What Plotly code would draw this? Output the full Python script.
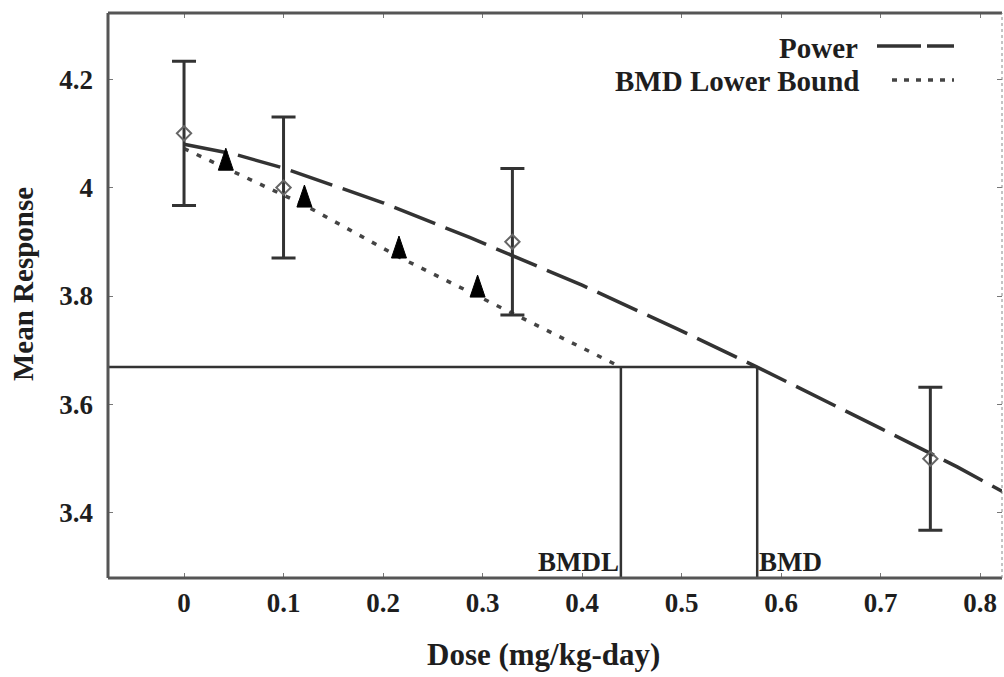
import plotly.graph_objects as go

# Observed group means with +/- error bar half-widths
dose = [0.0, 0.1, 0.33, 0.75]
mean_resp = [4.10, 4.00, 3.90, 3.50]
err_half = [0.133, 0.130, 0.135, 0.132]

# Fitted power model curve
power_dose = [0.0, 0.05, 0.1, 0.2, 0.287, 0.4, 0.495, 0.576, 0.7, 0.777, 0.83]
power_resp = [4.080, 4.062, 4.036, 3.972, 3.908, 3.820, 3.740, 3.669, 3.556, 3.485, 3.432]

# Lower-bound curve and its point markers
lb_dose = [0.0, 0.042, 0.121, 0.216, 0.295, 0.439]
lb_resp = [4.072, 4.036, 3.968, 3.872, 3.800, 3.669]
tri_dose = [0.042, 0.121, 0.216, 0.295]
tri_resp = [4.045, 3.977, 3.883, 3.811]

# Benchmark values
bmr_level = 3.669
bmd = 0.576
bmdl = 0.439

x_range = [-0.0764, 0.822]
y_range = [3.28, 4.322]
x_ticks = [0, 0.1, 0.2, 0.3, 0.4, 0.5, 0.6, 0.7, 0.8]
x_ticktext = ["0", "0.1", "0.2", "0.3", "0.4", "0.5", "0.6", "0.7", "0.8"]
y_ticks = [3.4, 3.6, 3.8, 4.0, 4.2]
y_ticktext = ["3.4", "3.6", "3.8", "4", "4.2"]

FONT = "Liberation Serif"
INK = "#1e1e1e"
LINE = "#333333"

W, H = 1004, 677
L, R, T, B = 108, 2, 13, 99
pw, ph = W - L - R, H - T - B


def px(xp):
    return (xp - L) / pw


def py(yp):
    return 1 - (yp - T) / ph


def bold(size):
    return dict(family=FONT, size=size, color=INK, weight="bold")


fig = go.Figure()

# BMD / BMDL reference lines
ref_line = dict(color=LINE, width=2.5)
fig.add_trace(go.Scatter(x=[x_range[0], bmd], y=[bmr_level, bmr_level], mode="lines",
                         line=ref_line, showlegend=False, hoverinfo="skip"))
fig.add_trace(go.Scatter(x=[bmdl, bmdl], y=[bmr_level, y_range[0]], mode="lines",
                         line=ref_line, showlegend=False, hoverinfo="skip"))
fig.add_trace(go.Scatter(x=[bmd, bmd], y=[bmr_level, y_range[0]], mode="lines",
                         line=ref_line, showlegend=False, hoverinfo="skip"))

# Power model
fig.add_trace(go.Scatter(x=power_dose, y=power_resp, mode="lines",
                         line=dict(color=LINE, width=3.5, dash="44px,11px"),
                         showlegend=False))

# Lower bound curve
fig.add_trace(go.Scatter(x=lb_dose, y=lb_resp, mode="lines",
                         line=dict(color="#444444", width=3.5, dash="5px,9px"),
                         showlegend=False))

# Observed means with error bars
fig.add_trace(go.Scatter(
    x=dose, y=mean_resp, mode="markers",
    marker=dict(symbol="diamond-open", size=11, color="#666666", line=dict(width=2)),
    error_y=dict(type="data", array=err_half, visible=True,
                 color=LINE, thickness=3, width=12),
    showlegend=False))

shapes = []

# Filled triangle markers on the lower-bound curve (fixed pixel size, anchored to data)
for xd, yd in zip(tri_dose, tri_resp):
    shapes.append(dict(type="path", xref="x", yref="y",
                       xsizemode="pixel", ysizemode="pixel",
                       xanchor=xd, yanchor=yd,
                       path="M-7.5,-7 L7.5,-7 L0,15 Z",
                       fillcolor="#000000", line=dict(color="#000000", width=1)))

# Frame
shapes += [
    dict(type="line", xref="paper", yref="paper", x0=0, x1=1, y0=1, y1=1,
         line=dict(color="#555555", width=3)),
    dict(type="line", xref="paper", yref="paper", x0=0, x1=0, y0=0, y1=1,
         line=dict(color="#555555", width=3)),
    dict(type="line", xref="paper", yref="paper", x0=0, x1=1, y0=0, y1=0,
         line=dict(color="#555555", width=3)),
    dict(type="line", xref="paper", yref="paper", x0=1, x1=1, y0=0, y1=1,
         line=dict(color="#888888", width=1, dash="dot")),
]

# Key samples
shapes += [
    dict(type="line", xref="paper", yref="paper", x0=px(877), x1=px(954),
         y0=py(46), y1=py(46), line=dict(color=LINE, width=3.5, dash="44px,6px")),
    dict(type="line", xref="paper", yref="paper", x0=px(892), x1=px(954),
         y0=py(80), y1=py(80), line=dict(color="#444444", width=3.5, dash="5px,7px")),
]

annotations = [
    # Benchmark labels
    dict(x=bmdl, y=3.309, xref="x", yref="y", text="BMDL", showarrow=False,
         xanchor="right", yanchor="middle", font=bold(27)),
    dict(x=bmd, y=3.309, xref="x", yref="y", text="BMD", showarrow=False,
         xanchor="left", yanchor="middle", font=bold(27)),
    # Key text, right-justified
    dict(x=px(860), y=py(48), xref="paper", yref="paper", text="Power",
         showarrow=False, xanchor="right", yanchor="middle", font=bold(29)),
    dict(x=px(861), y=py(81), xref="paper", yref="paper", text="BMD Lower Bound",
         showarrow=False, xanchor="right", yanchor="middle", font=bold(29)),
    # Axis titles
    dict(x=px(543), y=py(654), xref="paper", yref="paper", text="Dose (mg/kg-day)",
         showarrow=False, xanchor="center", yanchor="middle", font=bold(31)),
    dict(x=px(23), y=py(284), xref="paper", yref="paper", text="Mean Response",
         showarrow=False, textangle=-90, xanchor="center", yanchor="middle",
         font=bold(29)),
]

fig.update_layout(
    width=W, height=H, autosize=False,
    margin=dict(l=L, r=R, t=T, b=B, pad=0),
    paper_bgcolor="white", plot_bgcolor="white",
    shapes=shapes, annotations=annotations,
    font=dict(family=FONT, color=INK),
    xaxis=dict(range=x_range, tickvals=x_ticks, ticktext=x_ticktext,
               showgrid=False, zeroline=False, showline=False,
               ticks="inside", ticklen=5, tickcolor="#777777", mirror="ticks",
               ticklabelstandoff=6, tickfont=bold(27)),
    yaxis=dict(range=y_range, tickvals=y_ticks, ticktext=y_ticktext,
               showgrid=False, zeroline=False, showline=False,
               ticks="inside", ticklen=5, tickcolor="#777777", mirror="ticks",
               ticklabelstandoff=14, tickfont=bold(27)),
)

fig.write_html("out.html")
